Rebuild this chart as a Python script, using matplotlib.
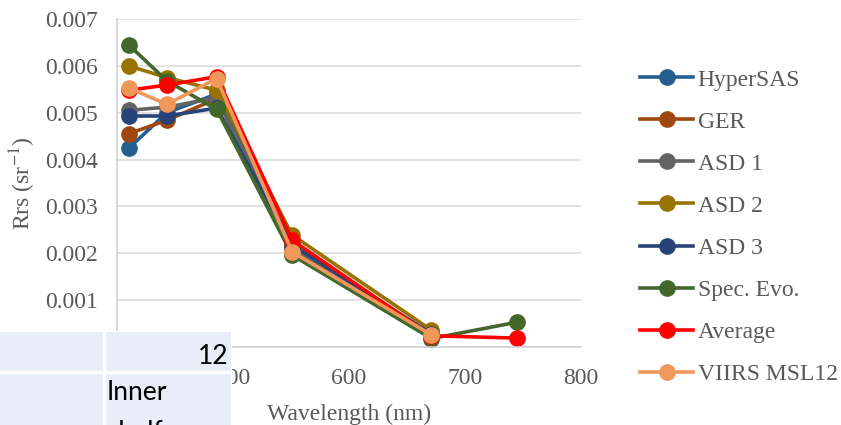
import matplotlib
matplotlib.use("Agg")
import matplotlib.pyplot as plt
from matplotlib.patches import Rectangle

# VIIRS band centres (nm)
wl = [410, 443, 486, 551, 671, 745]

hypersas = [0.00424, 0.00500, 0.00540, 0.00215, 0.00027]
ger = [0.00455, 0.00484, 0.00530, 0.00212, 0.00026]
asd1 = [0.00505, 0.00512, 0.00532, 0.00210, 0.00027]
asd2 = [0.00600, 0.00575, 0.00548, 0.00239, 0.00036]
asd3 = [0.00493, 0.00493, 0.00510, 0.00218, 0.00028]
spec_evo = [0.00645, 0.00568, 0.00507, 0.00196, 0.00018, 0.00053]
average = [0.00548, 0.00559, 0.00577, 0.00228, 0.00024, 0.00019]
viirs = [0.00553, 0.00518, 0.00573, 0.00203, 0.00026]

names = ["HyperSAS", "GER", "ASD 1", "ASD 2", "ASD 3", "Spec. Evo.", "Average", "VIIRS MSL12"]
series = [hypersas, ger, asd1, asd2, asd3, spec_evo, average, viirs]
colors = ["#255E91", "#9E480E", "#636363", "#997300", "#264478", "#43682B", "#FF0000", "#F1975A"]

xticks = [400, 500, 600, 700, 800]
yticks = [0, 0.001, 0.002, 0.003, 0.004, 0.005, 0.006, 0.007]

txt = "#595959"
fs = 17
plt.rcParams['font.family'] = ['Liberation Serif', 'DejaVu Serif']
plt.rcParams['mathtext.fontset'] = 'stix'

fig = plt.figure(figsize=(8.41, 4.25), dpi=100)
ax = fig.add_axes([117 / 841, 1 - 347 / 425, 464 / 841, 328 / 425])

for name, vals, c in zip(names, series, colors):
    ax.plot(wl[:len(vals)], vals, color=c, lw=2.6, marker='o', ms=11, label=name)

ax.set_xlim(400, 800)
ax.set_ylim(0, 0.007)
ax.set_xticks(xticks)
ax.set_yticks(yticks)
ax.set_yticklabels(["0" if v == 0 else "%.3f" % v for v in yticks])
ax.grid(axis='y', color='#D9D9D9', lw=1.1)
ax.set_axisbelow(True)
for s in ['top', 'right']:
    ax.spines[s].set_visible(False)
for s in ['left', 'bottom']:
    ax.spines[s].set_color('#D0D0D0')
    ax.spines[s].set_linewidth(1.1)
ax.tick_params(axis='y', length=0, pad=14, labelsize=fs, labelcolor=txt)
ax.tick_params(axis='x', length=0, pad=15, labelsize=fs, labelcolor=txt)
ax.set_xlabel("Wavelength (nm)", fontsize=fs, color=txt, labelpad=11)
ax.set_ylabel("Rrs (sr$^{-1}$)", fontsize=fs, color=txt, labelpad=5)

leg = ax.legend(loc='center left', bbox_to_anchor=(640 / 841, 1 - 227 / 425),
                bbox_transform=fig.transFigure, frameon=False, fontsize=fs,
                labelspacing=0.87, handlelength=2.25, handletextpad=0.2,
                borderpad=0, borderaxespad=0, numpoints=1)
for t in leg.get_texts():
    t.set_color(txt)

# pasted table fragment covering the lower-left corner
ov = fig.add_axes([0, 0, 1, 1])
ov.set_xlim(0, 841)
ov.set_ylim(425, 0)
ov.axis('off')
ov.patch.set_alpha(0)
cell = "#E9EDF7"
ov.add_patch(Rectangle((0, 331), 232, 94, facecolor='white', edgecolor='none'))
ov.add_patch(Rectangle((0, 332), 103, 39, facecolor=cell, edgecolor='none'))
ov.add_patch(Rectangle((106, 332), 125, 39, facecolor=cell, edgecolor='none'))
ov.add_patch(Rectangle((0, 374), 103, 51, facecolor=cell, edgecolor='none'))
ov.add_patch(Rectangle((106, 374), 125, 51, facecolor=cell, edgecolor='none'))
tfam = ['Lato', 'DejaVu Sans']
ov.text(229, 356, "12", ha='right', va='center', fontsize=19, color='black', family=tfam)
ov.text(107, 393, "Inner", ha='left', va='center', fontsize=19, color='black', family=tfam)
ov.text(107, 432, "shelf", ha='left', va='center', fontsize=19, color='black', family=tfam)

fig.savefig("out.png", dpi=100)
